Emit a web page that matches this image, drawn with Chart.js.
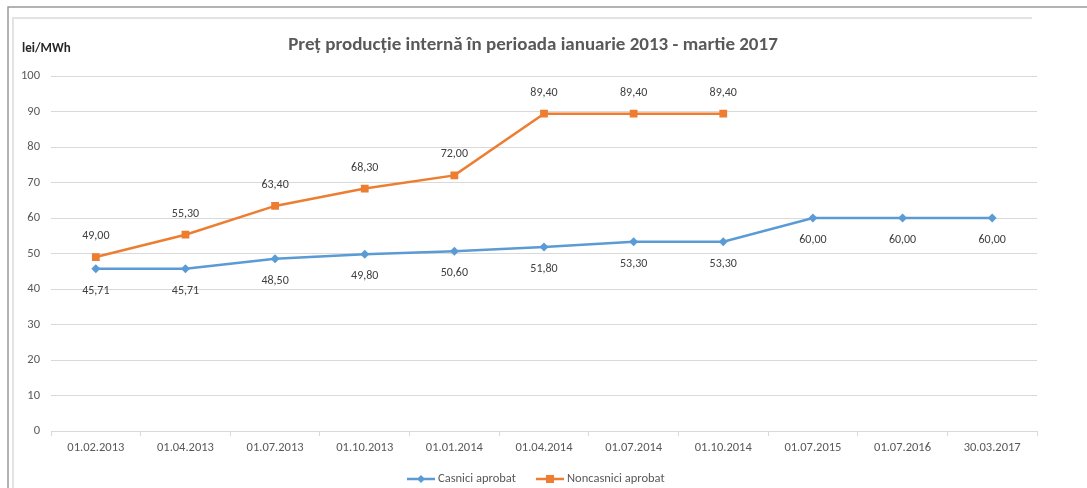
<!DOCTYPE html>
<html>
<head>
<meta charset="utf-8">
<script src="https://cdn.jsdelivr.net/npm/chart.js@4.4.1/dist/chart.umd.min.js"></script>
<style>
  html, body { margin: 0; padding: 0; background: #fff; }
  #wrap { width: 1087px; height: 488px; position: relative; }
</style>
</head>
<body>
<div id="wrap"><canvas id="pretChart" width="1087" height="488"></canvas></div>
<script>
// --- Data ---
const dates = ['01.02.2013', '01.04.2013', '01.07.2013', '01.10.2013', '01.01.2014',
  '01.04.2014', '01.07.2014', '01.10.2014', '01.07.2015', '01.07.2016', '30.03.2017'];
const casniciAprobat = [45.71, 45.71, 48.50, 49.80, 50.60, 51.80, 53.30, 53.30, 60.00, 60.00, 60.00];
const noncasniciAprobat = [49.00, 55.30, 63.40, 68.30, 72.00, 89.40, 89.40, 89.40, null, null, null];
const yTicks = [0, 10, 20, 30, 40, 50, 60, 70, 80, 90, 100];

const BLUE = '#5b9bd5';
const ORANGE = '#ed7d31';
const FONT = 'Calibri, "Liberation Sans", "Open Sans", sans-serif';

const fmt = v => v.toFixed(2).replace('.', ',');

// Frame, title, unit, value labels and legend
const decorPlugin = {
  id: 'decor',
  beforeDraw(chart) {
    const c = chart.ctx;
    c.save();
    c.fillStyle = '#fff';
    c.fillRect(0, 0, chart.width, chart.height);
    // outer frame
    c.strokeStyle = '#9a9a9a';
    c.lineWidth = 1.5;
    c.beginPath();
    c.moveTo(8, 488); c.lineTo(8, 7); c.lineTo(1087, 7);
    c.stroke();
    c.strokeStyle = '#e3e3e3';
    c.lineWidth = 2;
    c.beginPath();
    c.moveTo(13, 488); c.lineTo(13, 18); c.lineTo(1032, 18);
    c.stroke();
    c.restore();
  },
  afterDatasetsDraw(chart) {
    const c = chart.ctx;
    c.save();
    // title
    c.fillStyle = '#595959';
    c.font = '600 19px ' + FONT;
    c.textAlign = 'center';
    c.textBaseline = 'middle';
    c.fillText('Preț producție internă în perioada ianuarie 2013 - martie 2017', 533, 45);
    // unit
    c.fillStyle = '#262626';
    c.font = 'bold 13px ' + FONT;
    c.textAlign = 'left';
    c.fillText('lei/MWh', 22, 49);

    // value labels
    c.font = '12px ' + FONT;
    c.fillStyle = '#404040';
    c.textAlign = 'center';
    chart.data.datasets.forEach((ds, i) => {
      const meta = chart.getDatasetMeta(i);
      meta.data.forEach((pt, j) => {
        const v = ds.data[j];
        if (v === null || v === undefined) return;
        const dy = i === 0 ? 22 : -21;
        c.fillText(fmt(v), pt.x, pt.y + dy);
      });
    });

    // legend
    const items = [
      { label: 'Casnici aprobat', color: BLUE, style: 'diamond', x: 407 },
      { label: 'Noncasnici aprobat', color: ORANGE, style: 'square', x: 536 }
    ];
    const ly = 479;
    items.forEach(it => {
      c.strokeStyle = it.color;
      c.lineWidth = 2.5;
      c.beginPath();
      c.moveTo(it.x, ly); c.lineTo(it.x + 28, ly);
      c.stroke();
      c.fillStyle = it.color;
      const mx = it.x + 14;
      if (it.style === 'diamond') {
        c.beginPath();
        c.moveTo(mx, ly - 4); c.lineTo(mx + 4, ly); c.lineTo(mx, ly + 4); c.lineTo(mx - 4, ly);
        c.closePath(); c.fill();
      } else {
        c.fillRect(mx - 4, ly - 4, 8, 8);
      }
      c.fillStyle = '#595959';
      c.font = '12.5px ' + FONT;
      c.textAlign = 'left';
      c.fillText(it.label, it.x + 31, ly);
    });
    c.restore();
  }
};

const ctx = document.getElementById('pretChart').getContext('2d');

const pretChart = new Chart(ctx, {
  type: 'line',
  data: {
    labels: dates,
    datasets: [{
      label: 'Casnici aprobat',
      data: casniciAprobat,
      borderColor: BLUE,
      backgroundColor: BLUE,
      borderWidth: 2.5,
      pointStyle: 'rectRot',
      pointRadius: 4.5,
      pointBorderWidth: 0,
      tension: 0,
      fill: false
    }, {
      label: 'Noncasnici aprobat',
      data: noncasniciAprobat,
      borderColor: ORANGE,
      backgroundColor: ORANGE,
      borderWidth: 2.5,
      pointStyle: 'rect',
      pointRadius: 5.5,
      pointBorderWidth: 0,
      tension: 0,
      fill: false,
      spanGaps: false
    }]
  },
  options: {
    responsive: false,
    animation: false,
    layout: { padding: { left: 12, right: 50, top: 76, bottom: 32 } },
    plugins: {
      legend: { display: false },
      title: { display: false },
      tooltip: { enabled: false }
    },
    scales: {
      x: {
        offset: true,
        grid: {
          offset: true,
          drawOnChartArea: false,
          drawTicks: true,
          tickLength: 5,
          color: '#d9d9d9'
        },
        border: { display: true, color: '#d9d9d9', width: 1 },
        ticks: {
          color: '#595959',
          font: { size: 12.5, family: FONT },
          padding: 4,
          maxRotation: 0,
          autoSkip: false
        },
        afterFit: s => { s.height = 25; }
      },
      y: {
        min: 0,
        max: 100,
        afterBuildTicks: s => { s.ticks = yTicks.map(v => ({ value: v })); },
        grid: { color: '#d9d9d9', drawTicks: false },
        border: { display: false },
        ticks: {
          color: '#595959',
          font: { size: 12.5, family: FONT },
          padding: 11
        },
        afterFit: s => { s.width = 39; }
      }
    }
  },
  plugins: [decorPlugin]
});
</script>
</body>
</html>
